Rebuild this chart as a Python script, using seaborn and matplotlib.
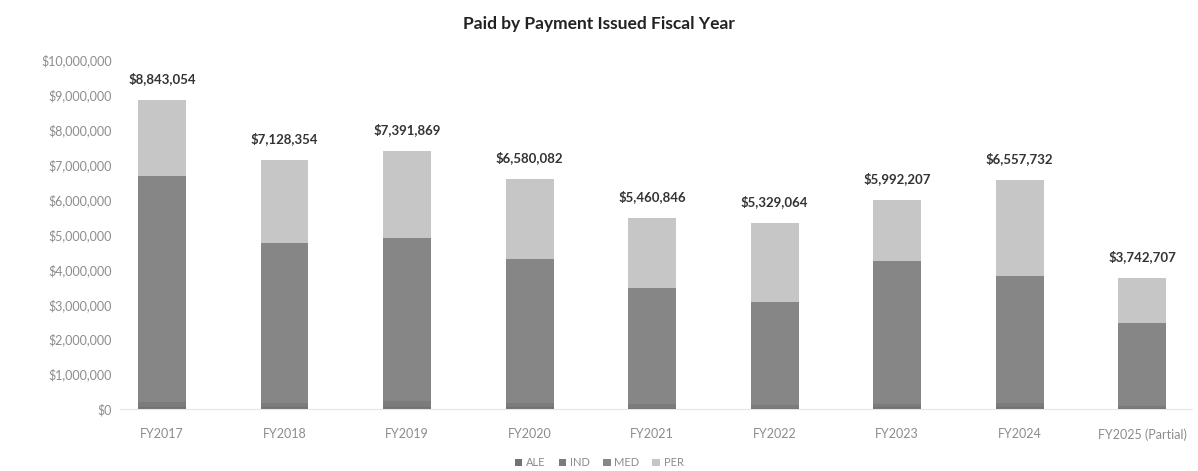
import matplotlib
matplotlib.use("Agg")
import matplotlib.pyplot as plt
import matplotlib.patches as mpatches
from matplotlib.ticker import FuncFormatter
import seaborn as sns
import pandas as pd
import numpy as np

years = ["FY2017", "FY2018", "FY2019", "FY2020", "FY2021", "FY2022",
         "FY2023", "FY2024", "FY2025 (Partial)"]
ale = [60000, 50000, 70000, 50000, 40000, 40000, 50000, 50000, 30000]
ind = [140000, 120000, 150000, 110000, 90000, 80000, 100000, 110000, 60000]
med = [6480000, 4580000, 4690000, 4140000, 3350000, 2940000, 4090000, 3650000, 2380000]
per = [2163054, 2378354, 2481869, 2280082, 1980846, 2269064, 1752207, 2747732, 1272707]

series = ["ALE", "IND", "MED", "PER"]
colors = {"ALE": "#727272", "IND": "#7b7b7b", "MED": "#868686", "PER": "#c6c6c6"}

df = pd.DataFrame({"year": years, "ALE": ale, "IND": ind, "MED": med, "PER": per})
df["c_ALE"] = df["ALE"]
df["c_IND"] = df["c_ALE"] + df["IND"]
df["c_MED"] = df["c_IND"] + df["MED"]
df["c_PER"] = df["c_MED"] + df["PER"]

sns.set_theme(style="white")
plt.rcParams["font.family"] = ["Lato", "DejaVu Sans"]

fig = plt.figure(figsize=(11.98, 4.71), dpi=100)
ax = fig.add_axes([0.1002, 0.1316, 0.895, 0.741])

for s in reversed(series):
    sns.barplot(data=df, x="year", y="c_" + s, color=colors[s], width=0.39,
                saturation=1, ax=ax, order=years, edgecolor="none")

ax.set_ylim(0, 10_000_000)
ax.set_xlim(-0.343, 8.408)
ax.set_yticks(np.arange(0, 10_000_001, 1_000_000))
ax.yaxis.set_major_formatter(FuncFormatter(lambda v, p: f"${v:,.0f}"))
ax.tick_params(axis="y", labelsize=9, colors="#8c8c8c", length=0, pad=6)
ax.tick_params(axis="x", labelsize=9, colors="#8c8c8c", length=0, pad=14)
ax.set_xlabel("")
ax.set_ylabel("")
for sp in ["top", "right", "left"]:
    ax.spines[sp].set_visible(False)
ax.spines["bottom"].set_color("#e6e6e6")
ax.spines["bottom"].set_linewidth(0.8)

for i, tot in enumerate(df["c_PER"]):
    ax.annotate(f"${tot:,.0f}", (i, tot), xytext=(0, 11), textcoords="offset points",
                ha="center", va="bottom", fontsize=9.5, fontweight="bold", color="#333333")

fig.text(0.5, 0.948, "Paid by Payment Issued Fiscal Year", ha="center", va="center",
         fontsize=12.5, fontweight="bold", color="#222222")

handles = [mpatches.Patch(facecolor=colors[s], edgecolor="none", label=s) for s in series]
fig.legend(handles=handles, loc="center", bbox_to_anchor=(0.5, 0.017), ncol=4,
           frameon=False, fontsize=8, labelcolor="#8c8c8c", handlelength=0.7,
           handleheight=0.7, handletextpad=0.3, columnspacing=1.2)

fig.savefig("out.png", dpi=100, facecolor="white")
